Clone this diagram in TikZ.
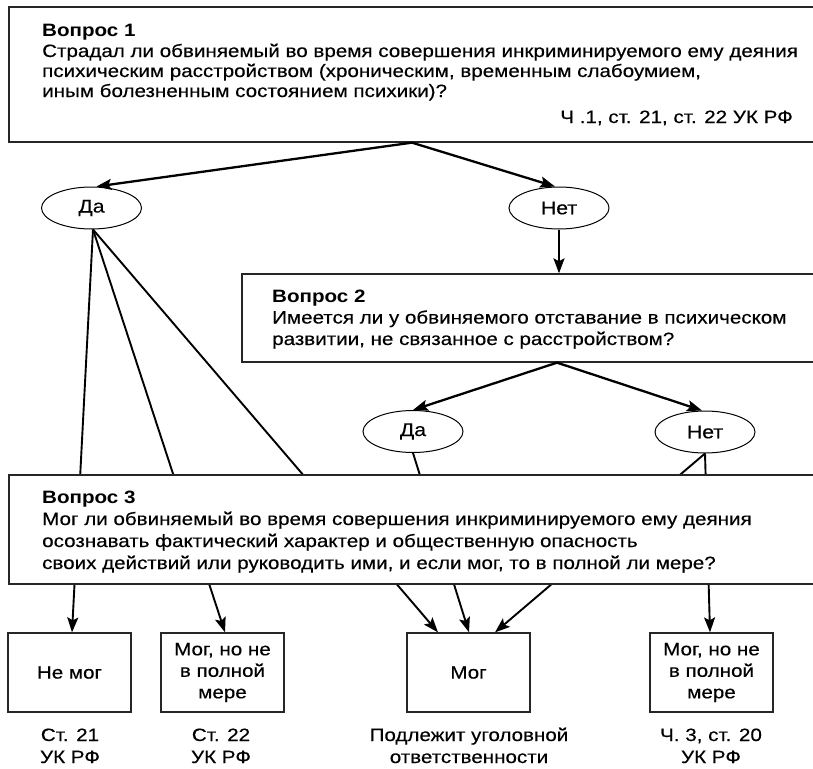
\documentclass[tikz,border=0pt]{standalone}
\usepackage{fontspec}
\setmainfont{Liberation Sans}[FakeStretch=1.15,UprightFeatures={FakeBold=0.35}]
\usetikzlibrary{arrows.meta,shapes.geometric,calc}
\newcommand\qfnt{\fontsize{17.9}{22}\selectfont}
\begin{document}
\begin{tikzpicture}[x=1pt,y=-1pt,
  qbox/.style={draw=black!85,line width=1.3pt,rectangle,inner sep=0,fill=white},
  qt/.style={font=\qfnt,inner sep=0,anchor=base west},
  qh/.style={font=\qfnt\bfseries,inner sep=0,anchor=base west},
  yesno/.style={draw,ellipse,line width=1pt,minimum width=100pt,minimum height=42pt,inner sep=0,font=\fontsize{18.5}{22}\selectfont},
  resbox/.style={draw=black!85,line width=1.3pt,rectangle,minimum width=123pt,minimum height=79pt,inner sep=0,align=center,font=\fontsize{17.9}{21.5}\selectfont},
  lbl/.style={align=center,inner sep=0,font=\fontsize{17.9}{22}\selectfont,anchor=base},
  tip/.style={-{Stealth[length=15pt,width=11pt,inset=3pt]}},
  thickarr/.style={tip,line width=2.3pt},
  thinarr/.style={tip,line width=1.9pt}
]
\useasboundingbox (0,0) rectangle (813,768);
\clip (0,0) rectangle (813,768);

% Question 1
\node[qbox,minimum width=806pt,minimum height=135pt] (b1) at (412,74.5) {};
\node[qh] (q1h) at (42,37) {Вопрос 1};
\node[qt] (q1a) at (42,57) {Страдал ли обвиняемый во время совершения инкриминируемого ему деяния};
\node[qt] (q1b) at (42,77) {психическим расстройством (хроническим, временным слабоумием,};
\node[qt] (q1c) at (42,97) {иным болезненным состоянием психики)?};
\node[qt,anchor=base east] (q1r) at (793,123) {Ч .1, ст. 21, ст. 22 УК РФ};

% first answers
\node[yesno] (da1) at (91.5,208) {Да};
\node[yesno] (net1) at (559,208) {Нет};

% Question 2
\node[qbox,minimum width=630pt,minimum height=88pt] (b2) at (557,318) {};
\node[qh] (q2h) at (272,302) {Вопрос 2};
\node[qt] (q2a) at (272,323.5) {Имеется ли у обвиняемого отставание в психическом};
\node[qt] (q2b) at (272,345) {развитии, не связанное с расстройством?};

\node[yesno] (da2) at (413,431.5) {Да};
\node[yesno] (net2) at (705,432) {Нет};

% result boxes
\node[resbox] (r1) at (69.5,672.5) {Не мог};
\node[resbox] (r2) at (222.5,672.5) {Мог, но не\\в полной\\мере};
\node[resbox] (r3) at (468.5,672.5) {Мог};
\node[resbox] (r4) at (711.5,672.5) {Мог, но не\\в полной\\мере};

% labels (base = baseline of last line)
\node[lbl] (l1) at (70,763) {Ст. 21\\УК РФ};
\node[lbl] (l2) at (221,763) {Ст. 22\\УК РФ};
\node[lbl] (l3) at (469,763) {Подлежит уголовной\\ответственности};
\node[lbl] (l4) at (711,763) {Ч. 3, ст. 20\\УК РФ};

% connectors
\draw[thickarr] (b1.south) -- ([xshift=5pt]da1.north);
\draw[thickarr] (b1.south) -- ([xshift=-4pt]net1.north);
\draw[thickarr] (net1.south) -- (net1.south |- b2.north);
\draw[thickarr] (b2.south) -- (da2.north);
\draw[thickarr] (b2.south) -- ([xshift=-3pt]net2.north);

\draw[thinarr] ([xshift=1.5pt]da1.south) -- ([xshift=2.5pt]r1.north);
\draw[thinarr] ([xshift=1.5pt]da1.south) -- ([xshift=2.5pt]r2.north);
\draw[thinarr] ([xshift=1.5pt]da1.south) -- ([xshift=-30.5pt]r3.north);
\draw[thinarr] (da2.south) -- ([xshift=0.5pt]r3.north);
\draw[thinarr] (net2.south) -- ([xshift=26.5pt]r3.north);
\draw[thinarr] (net2.south) -- ([xshift=-1.5pt]r4.north);

% Question 3 (drawn over the connectors)
\node[qbox,minimum width=821pt,minimum height=109pt] (b3) at (419.5,529.5) {};
\node[qh] (q3h) at (42,503) {Вопрос 3};
\node[qt] (q3a) at (42,525) {Мог ли обвиняемый во время совершения инкриминируемого ему деяния};
\node[qt] (q3b) at (42,547) {осознавать фактический характер и общественную опасность};
\node[qt] (q3c) at (42,569) {своих действий или руководить ими, и если мог, то в полной ли мере?};
\end{tikzpicture}
\end{document}
